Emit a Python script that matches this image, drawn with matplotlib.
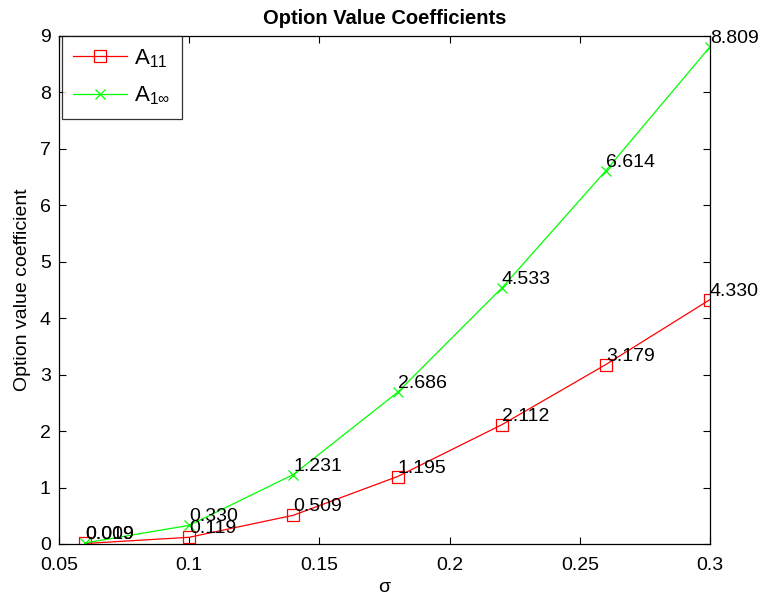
import matplotlib
matplotlib.use("Agg")
import matplotlib.pyplot as plt

plt.rcParams.update({
    "font.family": ["Liberation Sans", "DejaVu Sans"],
    "mathtext.fontset": "custom",
    "mathtext.rm": "Liberation Sans",
    "mathtext.it": "Liberation Sans:italic",
    "mathtext.bf": "Liberation Sans:bold",
    "xtick.direction": "in",
    "ytick.direction": "in",
    "xtick.top": True,
    "ytick.right": True,
})

# volatility grid and option value coefficients
sigma = [0.06, 0.10, 0.14, 0.18, 0.22, 0.26, 0.30]
a_11 = [0.009, 0.119, 0.509, 1.195, 2.112, 3.179, 4.330]
a_1inf = [0.019, 0.330, 1.231, 2.686, 4.533, 6.614, 8.809]

fig = plt.figure(figsize=(7.63, 5.97), dpi=100)
ax = fig.add_axes([59 / 763, 1 - 544 / 597, (710 - 59) / 763, (544 - 36) / 597])

ax.plot(sigma, a_11, color="#ff0000", lw=0.9, marker="s", ms=8,
        mfc="none", mec="#ff0000", mew=0.9, label=r"A$_{\mathregular{11}}$")
ax.plot(sigma, a_1inf, color="#00ff00", lw=0.9, marker="x", ms=7,
        mec="#00ff00", mew=0.9, label=r"A$_{\mathregular{1}\infty}$")

for xs, ys in ((sigma, a_11), (sigma, a_1inf)):
    for x, y in zip(xs, ys):
        ax.text(x, y, f"{y:.3f}", ha="left", va="bottom", fontsize=14)

ax.set_xlim(0.05, 0.3)
ax.set_ylim(0, 9)
ax.set_xticks([0.05, 0.1, 0.15, 0.2, 0.25, 0.3])
ax.set_xticklabels(["0.05", "0.1", "0.15", "0.2", "0.25", "0.3"])
ax.set_yticks(range(10))
ax.tick_params(labelsize=14, length=5, width=0.8)
ax.tick_params(axis="x", pad=9)
ax.tick_params(axis="y", pad=6)
for sp in ax.spines.values():
    sp.set_linewidth(0.9)

ax.set_xlabel("σ", fontsize=14, labelpad=4)
ax.set_ylabel("Option value coefficient", fontsize=14, labelpad=6)
ax.set_title("Option Value Coefficients", fontsize=14.5, fontweight="bold", pad=9)

leg = ax.legend(loc="upper left", fontsize=16, frameon=True, fancybox=False,
                edgecolor="black", borderaxespad=0.0, handlelength=2.4,
                handletextpad=0.35, borderpad=0.5, labelspacing=0.68,
                bbox_to_anchor=(0.005, 1.0))
leg.get_frame().set_linewidth(0.9)

fig.savefig("out.png", dpi=100)
